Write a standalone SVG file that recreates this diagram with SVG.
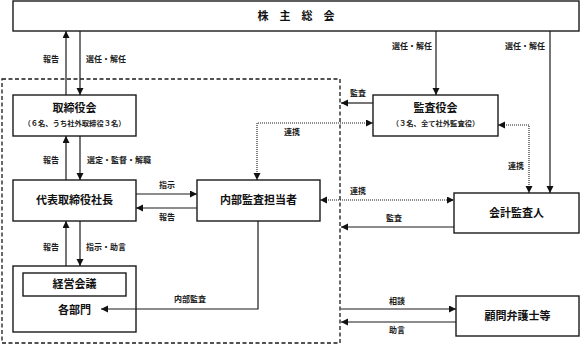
<svg xmlns="http://www.w3.org/2000/svg" width="580" height="345" viewBox="0 0 580 345">
<style>
.box{fill:#fff;stroke:#1a1a1a;stroke-width:1.4}
.t{font-family:"Noto Sans CJK JP","Noto Sans CJK SC",sans-serif;font-weight:bold;font-size:11px;fill:#111;text-anchor:middle}
.s{font-family:"Noto Sans CJK JP","Noto Sans CJK SC",sans-serif;font-weight:bold;font-size:7.3px;fill:#222;text-anchor:middle}
.l{font-family:"Noto Sans CJK JP","Noto Sans CJK SC",sans-serif;font-weight:bold;font-size:8px;fill:#1a1a1a;text-anchor:middle}
.c{fill:none;stroke:#1a1a1a;stroke-width:1.2}
.d{fill:none;stroke:#1a1a1a;stroke-width:1.1;stroke-dasharray:1,1}
</style>
<defs>
<marker id="a" markerUnits="userSpaceOnUse" markerWidth="8" markerHeight="8" refX="7" refY="3.5" orient="auto-start-reverse">
<path d="M0,0 L7,3.5 L0,7 z" fill="#111"/>
</marker>
</defs>
<rect width="580" height="345" fill="#fff"/>
<rect x="2" y="79" width="338" height="264" fill="none" stroke="#1a1a1a" stroke-width="1.3" stroke-dasharray="4,2.5"/>
<g id="kabunushi"><rect class="box" x="13" y="1" width="566" height="30"/><text class="t" x="296" y="20">株　主　総　会</text></g>
<g id="torishimariyakukai"><rect class="box" x="13" y="95" width="123" height="41"/><text class="t" x="74.5" y="112">取締役会</text><text class="s" x="74.5" y="126">（６名、うち社外取締役３名）</text></g>
<g id="shacho"><rect class="box" x="13" y="180" width="123" height="41"/><text class="t" x="74.5" y="204">代表取締役社長</text></g>
<g id="naibukansa"><rect class="box" x="197" y="180" width="123" height="41"/><text class="t" x="258.5" y="204">内部監査担当者</text></g>
<g id="kakubumon"><rect class="box" x="13" y="266" width="123" height="66"/><rect class="box" x="23" y="273" width="103" height="23"/><text class="t" x="74.5" y="288">経営会議</text><text class="t" x="74.5" y="314">各部門</text></g>
<g id="kansayakukai"><rect class="box" x="373" y="95" width="125" height="41"/><text class="t" x="435.5" y="112">監査役会</text><text class="s" x="435.5" y="126">（３名、全て社外監査役）</text></g>
<g id="kaikei"><rect class="box" x="454" y="193" width="125" height="40"/><text class="t" x="516.5" y="217">会計監査人</text></g>
<g id="bengoshi"><rect class="box" x="456" y="296" width="123" height="40"/><text class="t" x="517.5" y="320">顧問弁護士等</text></g>
<g id="connectors">
<path class="c" d="M66,95 V31" marker-end="url(#a)"/>
<path class="c" d="M80,31 V95" marker-end="url(#a)"/>
<path class="c" d="M66,180 V136" marker-end="url(#a)"/>
<path class="c" d="M80,136 V180" marker-end="url(#a)"/>
<path class="c" d="M136,194 H197" marker-end="url(#a)"/>
<path class="c" d="M197,208 H136" marker-end="url(#a)"/>
<path class="c" d="M66,266 V221" marker-end="url(#a)"/>
<path class="c" d="M80,221 V266" marker-end="url(#a)"/>
<path class="c" d="M258,221 V309 H101" marker-end="url(#a)"/>
<path class="c" d="M436,31 V95" marker-end="url(#a)"/>
<path class="c" d="M550,31 V193" marker-end="url(#a)"/>
<path class="c" d="M373,103 H341" marker-end="url(#a)"/>
<path class="d" d="M373,123 H257 V180" marker-start="url(#a)" marker-end="url(#a)"/>
<path class="d" d="M498,125 H529 V193" marker-start="url(#a)" marker-end="url(#a)"/>
<path class="d" d="M320,200 H454" marker-start="url(#a)" marker-end="url(#a)"/>
<path class="c" d="M454,227 H341" marker-end="url(#a)"/>
<path class="c" d="M341,309 H456" marker-end="url(#a)"/>
<path class="c" d="M456,322 H341" marker-end="url(#a)"/>
<text class="l" x="51" y="62">報告</text>
<text class="l" x="86" y="62" style="text-anchor:start">選任・解任</text>
<text class="l" x="51" y="163">報告</text>
<text class="l" x="87" y="163" style="text-anchor:start">選定・監督・解職</text>
<text class="l" x="167" y="188">指示</text>
<text class="l" x="167" y="220">報告</text>
<text class="l" x="51" y="250">報告</text>
<text class="l" x="86" y="250" style="text-anchor:start">指示・助言</text>
<text class="l" x="190" y="302">内部監査</text>
<text class="l" x="432" y="49" style="text-anchor:end">選任・解任</text>
<text class="l" x="545" y="49" style="text-anchor:end">選任・解任</text>
<text class="l" x="358" y="96">監査</text>
<text class="l" x="292" y="135">連携</text>
<text class="l" x="516" y="169">連携</text>
<text class="l" x="358" y="194">連携</text>
<text class="l" x="394" y="221">監査</text>
<text class="l" x="397" y="304">相談</text>
<text class="l" x="397" y="333">助言</text>
</g>
</svg>
